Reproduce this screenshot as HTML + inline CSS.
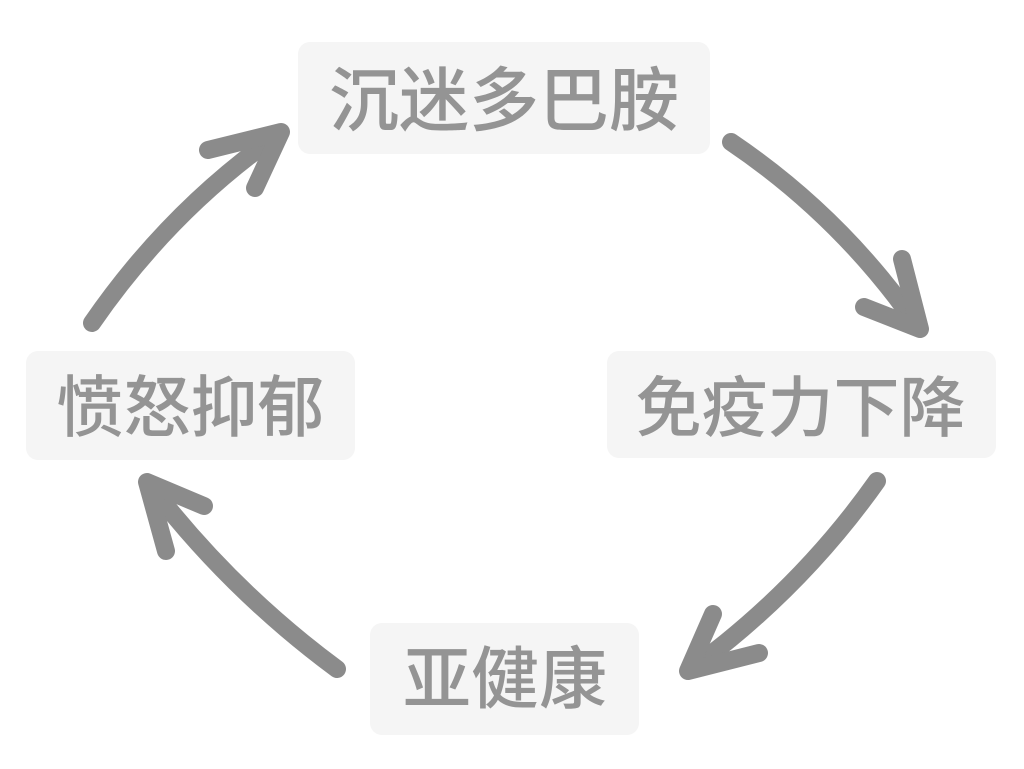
<!DOCTYPE html>
<html><head><meta charset="utf-8"><style>
html,body{margin:0;padding:0;background:#fff}
svg{display:block}
text{font-family:"Liberation Sans","Noto Sans CJK SC",sans-serif;fill:#949494;text-anchor:middle;font-weight:500}
</style></head><body>
<svg width="1024" height="769" viewBox="0 0 1024 769" xmlns="http://www.w3.org/2000/svg">
<rect x="0" y="0" width="1024" height="769" fill="#fff"/>
<rect x="298" y="42" width="412" height="112" rx="12" fill="#f5f5f5"/>
<rect x="607" y="351" width="389" height="107" rx="12" fill="#f5f5f5"/>
<rect x="370" y="623" width="269" height="112" rx="12" fill="#f5f5f5"/>
<rect x="26" y="351" width="329" height="109" rx="12" fill="#f5f5f5"/>
<text x="504" y="125" font-size="70">沉迷多巴胺</text>
<text x="800.5" y="431" font-size="66">免疫力下降</text>
<text x="505" y="703" font-size="68">亚健康</text>
<text x="190.5" y="431" font-size="67">愤怒抑郁</text>
<g fill="none" stroke="#8b8b8b" stroke-width="18" stroke-linecap="round" stroke-linejoin="round">
<path d="M731 142Q842 217 918 327"/>
<path d="M902 259L920 329L864 307"/>
<path d="M877 481Q800 590 690 670"/>
<path d="M713 614L688 671L759 653"/>
<path d="M337 669Q230 590 149 484"/>
<path d="M166 551L147 482L204 506"/>
<path d="M92 323Q170 210 279 134"/>
<path d="M208 150L281 132L255 188"/>
</g>
</svg>
</body></html>
